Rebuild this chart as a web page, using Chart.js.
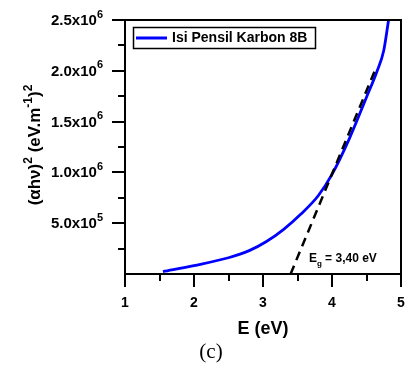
<!DOCTYPE html>
<html>
<head>
<meta charset="utf-8">
<script src="https://cdn.jsdelivr.net/npm/chart.js@4.4.1/dist/chart.umd.min.js"></script>
<style>
  html, body { margin: 0; padding: 0; background: #fff; }
  #wrap { position: relative; width: 406px; height: 367px; }
  #caption { position: absolute; left: 0; width: 422px; top: 339px; text-align: center;
             font: 21px "Liberation Serif", "Times New Roman", serif; color: #000; }
</style>
</head>
<body>
<div id="wrap">
  <canvas id="c" width="406" height="367"></canvas>
  <div id="caption">(c)</div>
</div>
<script>
// data
const energy = [1.55, 2.0, 2.5, 2.8, 3.05, 3.3, 3.55, 3.8, 4.0, 4.25, 4.5, 4.65, 4.75, 4.82];
const alphaHv2 = [2.3e4, 8.3e4, 1.6e5, 2.3e5, 3.2e5, 4.4e5, 5.9e5, 7.7e5, 9.8e5, 1.33e6, 1.74e6, 1.99e6, 2.2e6, 2.5e6];
const tangentE = [3.40, 4.62];
const tangentY = [0, 2.0e6];
const xTickLabels = ['1', '2', '3', '4', '5'];
const yTickMain = ['', '5.0x10', '1.0x10', '1.5x10', '2.0x10', '2.5x10'];
const yTickExp  = ['', '5', '6', '6', '6', '6'];

const FONT = '"Liberation Sans", Arial, sans-serif';

// text with super/subscripts
function richWidth(ctx, segs, size) {
  let w = 0;
  segs.forEach(s => {
    ctx.font = `bold ${s.sup || s.sub ? Math.round(size * 0.7) : size}px ${FONT}`;
    w += ctx.measureText(s.t).width;
  });
  return w;
}
function drawRich(ctx, segs, x, y, size, align) {
  let cx = align === 'center' ? x - richWidth(ctx, segs, size) / 2
         : align === 'right' ? x - richWidth(ctx, segs, size) : x;
  ctx.textAlign = 'left';
  ctx.textBaseline = 'alphabetic';
  segs.forEach(s => {
    const sz = s.sup || s.sub ? Math.round(size * 0.7) : size;
    ctx.font = `bold ${sz}px ${FONT}`;
    const dy = s.sup ? -size * 0.5 : s.sub ? size * 0.3 : 0;
    ctx.fillText(s.t, cx, y + dy);
    cx += ctx.measureText(s.t).width;
  });
}

const decor = {
  id: 'decor',
  afterDraw(chart) {
    const { ctx, chartArea: a } = chart;
    const xs = chart.scales.x, ys = chart.scales.y;
    ctx.save();
    ctx.strokeStyle = '#000';
    ctx.fillStyle = '#000';
    ctx.lineWidth = 2;
    ctx.strokeRect(a.left, a.top, a.right - a.left, a.bottom - a.top);

    // ticks, major + minor
    ctx.beginPath();
    for (let v = 1; v <= 5.001; v += 0.5) {
      const px = Math.round(xs.getPixelForValue(v));
      const len = Math.abs(v - Math.round(v)) < 1e-6 ? 13 : 7;
      ctx.moveTo(px, a.bottom); ctx.lineTo(px, a.bottom + len);
    }
    for (let k = 1; k <= 10; k++) {
      const py = Math.round(ys.getPixelForValue(k * 2.5e5));
      const len = k % 2 === 0 ? 13 : 7;
      ctx.moveTo(a.left, py); ctx.lineTo(a.left - len, py);
    }
    ctx.stroke();

    // y tick labels with exponent
    for (let i = 1; i < yTickMain.length; i++) {
      const py = ys.getPixelForValue(i * 5e5);
      drawRich(ctx, [{ t: yTickMain[i] }, { t: yTickExp[i], sup: true }], a.left - 22, py + 5, 15, 'right');
    }

    // x title
    ctx.font = `bold 18px ${FONT}`;
    ctx.textAlign = 'center';
    ctx.textBaseline = 'alphabetic';
    ctx.fillText('E (eV)', (a.left + a.right) / 2, 334);

    // y title
    ctx.save();
    ctx.translate(40, (a.top + a.bottom) / 2 - 2);
    ctx.rotate(-Math.PI / 2);
    drawRich(ctx, [
      { t: '(\u03b1h\u03bd)' }, { t: '2', sup: true }, { t: ' (eV.m' }, { t: '-1', sup: true },
      { t: ')' }, { t: '2', sup: true }
    ], 0, 0, 17, 'center');
    ctx.restore();

    // band gap label
    drawRich(ctx, [{ t: 'E' }, { t: 'g', sub: true }, { t: ' = 3,40 eV' }],
      xs.getPixelForValue(3.665), ys.getPixelForValue(1.18e5), 12, 'left');

    // legend
    const ds = chart.data.datasets[1];
    ctx.lineWidth = 1.5;
    ctx.strokeRect(133.5, 27.5, 182, 21);
    ctx.strokeStyle = ds.borderColor;
    ctx.lineWidth = 3;
    ctx.beginPath(); ctx.moveTo(136, 38); ctx.lineTo(167, 38); ctx.stroke();
    ctx.font = `bold 14px ${FONT}`;
    ctx.textAlign = 'left';
    ctx.textBaseline = 'middle';
    ctx.fillText(ds.label, 172, 38.5);
    ctx.restore();
  }
};

new Chart(document.getElementById('c'), {
  type: 'scatter',
  data: {
    datasets: [
      {
        label: 'Eg',
        data: tangentE.map((x, i) => ({ x, y: tangentY[i] })),
        showLine: true, borderColor: '#000', borderWidth: 2.5, borderDash: [9, 6],
        pointRadius: 0, order: 1
      },
      {
        label: 'Isi Pensil Karbon 8B',
        data: energy.map((x, i) => ({ x, y: alphaHv2[i] })),
        showLine: true, borderColor: '#0000ff', borderWidth: 2.8,
        pointRadius: 0, tension: 0.4, cubicInterpolationMode: 'monotone', order: 2
      }
    ]
  },
  options: {
    responsive: false, animation: false, devicePixelRatio: 1,
    layout: { padding: { left: 0, right: 5, top: 20, bottom: 0 } },
    plugins: { legend: { display: false }, tooltip: { enabled: false } },
    scales: {
      x: {
        type: 'linear', min: 1, max: 5,
        grid: { display: false, drawTicks: false }, border: { display: false },
        ticks: { stepSize: 1, padding: 21, color: '#000',
                 font: { family: FONT, size: 14, weight: 'bold' },
                 callback: (v) => xTickLabels[Math.round(v) - 1] },
        afterFit: (s) => { s.height = 93; s.paddingLeft = 0; s.paddingRight = 0; }
      },
      y: {
        type: 'linear', min: 0, max: 2.5e6,
        grid: { display: false, drawTicks: false }, border: { display: false },
        ticks: { display: false, stepSize: 5e5 },
        afterFit: (s) => { s.width = 125; }
      }
    }
  },
  plugins: [decor]
});
</script>
</body>
</html>
